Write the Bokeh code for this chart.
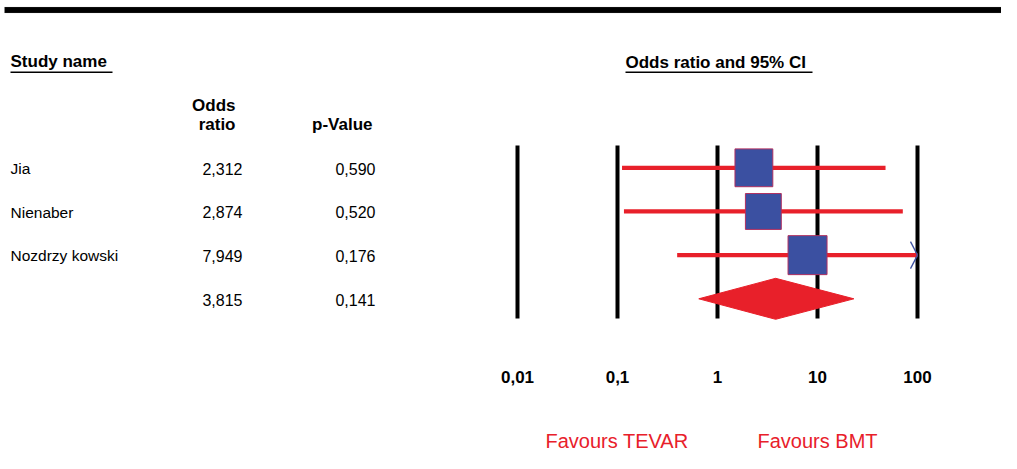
from bokeh.plotting import figure
from bokeh.models import Range1d, BoxAnnotation
from bokeh.core.properties import value
from bokeh.embed import file_html
from bokeh.resources import INLINE

# ---------------- data ----------------
studies = ["Jia", "Nienaber", "Nozdrzy kowski"]
odds_ratio = [2.312, 2.874, 7.949]
p_value = [0.590, 0.520, 0.176]
ci_lower = [0.111, 0.116, 0.395]
ci_upper = [47.9, 71.3, 100.0]
ci_truncated = [False, False, True]
weights = [0.97, 0.92, 1.0]  # relative study weight (square size)

summary_or = 3.815
summary_p = 0.141
summary_lower = 0.65
summary_upper = 23.1

ticks = [0.01, 0.1, 1, 10, 100]
tick_labels = ["0,01", "0,1", "1", "10", "100"]

def fmt(v):
    return f"{v:.3f}".replace(".", ",")

# ---------------- layout helpers ----------------
W, H = 1001, 453
ROW0, ROWH = 167.3, 43.67   # pixel centre of first row, row spacing
TXT = 6.5                   # text baseline correction

def ry(py):
    return (py - ROW0) / ROWH

def lx(px):
    return 10 ** ((px - 717) / 100.0)

RED = "#e8202a"
BLUE = "#3b50a1"
FONT = value("Liberation Sans")

p = figure(width=W, height=H, output_backend="svg", toolbar_location=None,
           x_axis_type="log", x_range=Range1d(lx(0), lx(W)),
           y_range=Range1d(ry(H), ry(0)),
           x_axis_location=None, y_axis_location=None,
           min_border=0, outline_line_color=None, background_fill_color="white")
for g in p.grid:
    g.visible = False

# top black bar
p.add_layout(BoxAnnotation(top=ry(6.5), bottom=ry(12.5), left=lx(4), fill_color="black",
                           fill_alpha=1, line_color="#aaaaaa", line_width=0.6))

rows = list(range(len(studies)))
sum_row = len(studies)

# vertical reference lines
p.segment(x0=ticks, x1=ticks, y0=[ry(145)] * len(ticks), y1=[ry(318)] * len(ticks),
          line_color="black", line_width=4)

# confidence intervals
p.segment(x0=ci_lower, x1=ci_upper, y0=rows, y1=rows, line_color=RED, line_width=4.3)

# truncation arrows
arm_dx = 10 ** 0.07
arm_dy = 13.5 / ROWH
for r, up, tr in zip(rows, ci_upper, ci_truncated):
    if tr:
        p.segment(x0=[up, up], y0=[r, r], x1=[up / arm_dx, up / arm_dx],
                  y1=[r - arm_dy, r + arm_dy], line_color=BLUE, line_width=1.3)

# squares
p.scatter(x=odds_ratio, y=rows, marker="square", size=[39 * w for w in weights],
          fill_color=BLUE, line_color="#b03060", line_width=1)

# summary diamond
dh = 20.5 / ROWH
p.patch(x=[summary_lower, summary_or, summary_upper, summary_or],
        y=[sum_row, sum_row - dh, sum_row, sum_row + dh],
        fill_color=RED, line_color=RED)

# tick labels
p.text(x=ticks, y=[ry(382.7 - TXT)] * len(ticks), text=tick_labels, text_align="center",
       text_baseline="alphabetic", text_font=FONT, text_font_style="bold",
       text_font_size="17px", text_color="black")

# table text
row_off = 7.7 - 7
p.text(x=[lx(10)] * len(studies), y=rows, text=studies, text_align="left",
       text_baseline="alphabetic", y_offset=row_off, text_font=FONT,
       text_font_size="15.5px", text_color="black")
p.text(x=[lx(242)] * (len(studies) + 1), y=rows + [sum_row],
       text=[fmt(v) for v in odds_ratio + [summary_or]], text_align="right",
       text_baseline="alphabetic", y_offset=row_off, text_font=FONT,
       text_font_size="16px", text_color="black")
p.text(x=[lx(375)] * (len(studies) + 1), y=rows + [sum_row],
       text=[fmt(v) for v in p_value + [summary_p]], text_align="right",
       text_baseline="alphabetic", y_offset=row_off, text_font=FONT,
       text_font_size="16px", text_color="black")

# headers
p.text(x=[lx(10), lx(625)], y=[ry(67.7 - TXT), ry(68.3 - TXT)],
       text=["Study name", "Odds ratio and 95% CI"], text_align="left",
       text_baseline="alphabetic", text_font=FONT, text_font_style="bold",
       text_font_size="17px", text_color="black")
p.segment(x0=[lx(10), lx(625)], x1=[lx(112), lx(812)], y0=[ry(71.7)] * 2, y1=[ry(71.7)] * 2,
          line_color="black", line_width=1.6)
p.text(x=[lx(235), lx(235), lx(372)],
       y=[ry(111.7 - TXT), ry(130.7 - TXT), ry(130.7 - TXT)],
       text=["Odds", "ratio", "p-Value"], text_align="right",
       text_baseline="alphabetic", text_font=FONT, text_font_style="bold",
       text_font_size="17px", text_color="black")

# favours labels
p.text(x=[lx(545), lx(757)], y=[ry(440)] * 2, text=["Favours TEVAR", "Favours BMT"],
       text_align="left", text_baseline="alphabetic", text_font=FONT,
       text_font_size="20px", text_color=RED)

open("out.html", "w").write(file_html(p, INLINE))
